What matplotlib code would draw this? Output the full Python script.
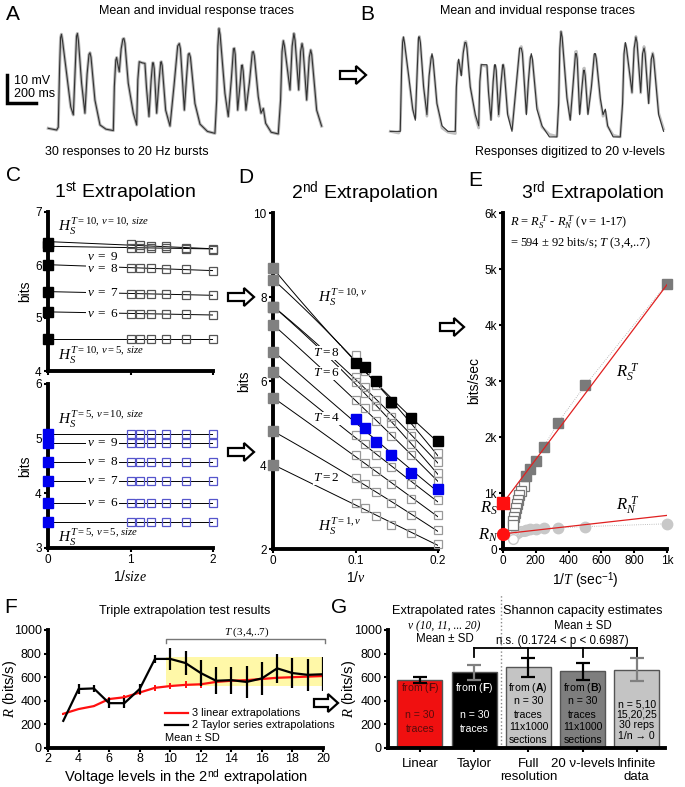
import numpy as np
import matplotlib
matplotlib.use('Agg')
import matplotlib.pyplot as plt
from matplotlib.patches import Polygon, Rectangle

plt.rcParams['font.family'] = ['Liberation Sans', 'DejaVu Sans']
plt.rcParams['mathtext.fontset'] = 'custom'
plt.rcParams['mathtext.rm'] = 'Liberation Serif'
plt.rcParams['mathtext.it'] = 'Liberation Serif:italic'
plt.rcParams['mathtext.sf'] = 'Liberation Sans'
plt.rcParams['mathtext.bf'] = 'Liberation Sans:bold'

# ---------------- data ----------------
# A/B: response trace (ms, mV)
trace_t = [2, 60, 71, 80, 87, 93, 100, 129, 157, 175,
           188, 197, 203, 210, 232, 255,
           270, 283, 290, 297, 324, 359, 400, 451,
           458, 468, 474, 480, 492, 505, 517, 524, 531, 554, 589, 612,
           620, 630, 650, 669, 680, 697,
           712, 722, 727, 733, 750,
           767, 778, 782, 788, 812, 842,
           870, 895, 906, 914, 941,
           955, 968, 975, 983, 1014, 1049, 1100, 1152,
           1164, 1172, 1180, 1188, 1221, 1244,
           1265, 1280, 1286, 1292, 1309,
           1325, 1336, 1341, 1347, 1366,
           1390, 1410, 1417, 1424, 1451, 1470, 1486, 1502, 1540, 1589,
           1605, 1615, 1624, 1632, 1670,
           1685, 1697, 1705, 1730,
           1743, 1753, 1760, 1785,
           1803, 1813, 1820, 1854, 1888]
trace_v = [0.6, 0.0, 1.0, 22.0, 33.0, 34.2, 32.0, 20.0, 8.3, 5.4,
           22.0, 33.5, 34.5, 32.0, 16.7, 6.0,
           20.0, 27.0, 27.6, 26.0, 10.7, 1.8, 0.3, -0.2,
           15.5, 25.0, 25.9, 24.0, 20.8, 29.0, 32.5, 32.7, 31.0, 16.7, 6.0, 1.8,
           18.0, 24.4, 24.0, 23.8, 15.0, 4.8,
           18.0, 24.0, 24.0, 22.0, 6.0,
           18.0, 24.2, 24.4, 23.0, 7.1, 1.4,
           16.0, 30.0, 30.9, 29.0, 7.1,
           18.0, 27.0, 27.4, 26.0, 9.5, 2.1, -0.5, -1.2,
           10.7, 30.0, 36.3, 34.0, 13.1, 4.8,
           18.0, 29.0, 29.2, 27.0, 7.1,
           16.0, 23.0, 23.2, 21.0, 7.1,
           17.0, 27.8, 28.0, 26.5, 11.9, 6.0, 7.7, 2.4, -0.8, -1.4,
           10.7, 28.0, 31.9, 30.0, 14.3,
           30.0, 34.5, 32.0, 14.3,
           28.0, 30.9, 29.0, 10.7,
           26.0, 28.6, 27.0, 7.1, 1.4]
n_levels = 20

# C: 1st extrapolation (x = 1/size), nu = 10..5
C_inv_size = [1.0, 1.11, 1.25, 1.43, 1.67, 2.0]
C_top_extrap = [6.42, 6.35, 6.00, 5.50, 5.12, 4.60]
C_top_vals = [[6.40, 6.38, 6.36, 6.35, 6.33, 6.28],
              [6.33, 6.33, 6.32, 6.32, 6.31, 6.30],
              [5.95, 5.95, 5.94, 5.93, 5.92, 5.88],
              [5.46, 5.46, 5.45, 5.45, 5.44, 5.43],
              [5.08, 5.08, 5.08, 5.07, 5.07, 5.06],
              [4.60, 4.60, 4.60, 4.60, 4.60, 4.60]]
C_bot_extrap = [5.08, 4.92, 4.57, 4.23, 3.82, 3.47]
C_bot_vals = [[5.08] * 6, [4.92] * 6, [4.57] * 6, [4.23] * 6, [3.82] * 6, [3.47] * 6]

# D: 2nd extrapolation (x = 1/nu), T = 10..1
D_inv_nu = [0.1, 0.111, 0.125, 0.143, 0.167, 0.2]
D_T = [10, 9, 8, 7, 6, 5, 4, 3, 2, 1]
D_extrap = [8.68, 8.40, 7.77, 7.77, 7.34, 6.70, 6.22, 5.60, 4.80, 4.00]
D_vals = [[6.42, 6.34, 6.00, 5.49, 5.13, 4.57],
          [6.62, 6.25, 5.90, 5.45, 4.95, 4.28],
          [6.10, 5.85, 5.55, 5.15, 4.70, 4.08],
          [5.98, 5.72, 5.40, 5.00, 4.50, 3.80],
          [5.55, 5.35, 5.05, 4.70, 4.25, 3.62],
          [5.09, 4.89, 4.54, 4.23, 3.81, 3.43],
          [4.71, 4.50, 4.25, 3.95, 3.55, 3.17],
          [4.24, 4.05, 3.85, 3.55, 3.20, 2.80],
          [3.69, 3.55, 3.35, 3.10, 2.80, 2.45],
          [3.10, 2.98, 2.78, 2.57, 2.38, 2.12]]

# E: 3rd extrapolation (x = 1/T in 1/s)
E_x_filled = [1000, 500, 333, 250, 200, 167, 143]
E_RS_filled = [4740, 2920, 2250, 1830, 1570, 1420, 1300]
E_RN_filled = [450, 400, 375, 370, 360, 350, 340]
E_x_open = [125, 111, 100, 91, 83, 77, 71, 67, 63, 59]
E_RS_open = [1130, 1030, 960, 880, 800, 730, 650, 580, 500, 430]
E_RN_open = [330, 320, 310, 300, 290, 275, 260, 240, 210, 170]
E_fit_x = [0, 1000]
E_RS_fit = [820, 4720]
E_RN_fit = [270, 600]

# F: triple extrapolation test
F_levels = list(range(3, 21))
F_linear = [290, 330, 355, 415, 430, 470, 510, 525, 535, 540, 560, 570, 575, 585, 595, 600, 605, 610]
F_linear_sd = [10, 10, 10, 15, 15, 20, 25, 25, 30, 30, 30, 35, 35, 35, 40, 40, 40, 40]
F_taylor = [230, 500, 505, 380, 380, 500, 755, 755, 720, 635, 570, 575, 560, 590, 675, 635, 620, 625]
F_taylor_sd = [0, 45, 30, 40, 40, 45, 35, 95, 105, 110, 115, 115, 135, 140, 120, 125, 135, 145]
F_band = [9.75, 20.1, 525, 775]

# G: bar chart
G_labels = ['Linear', 'Taylor', 'Full\nresolution', '20 \u03bd-levels', 'Infinite\ndata']
G_values = [578, 640, 683, 650, 665]
G_sd = [25, 60, 80, 70, 95]
G_colors = ['#f01010', '#000000', '#c4c4c4', '#7e7e7e', '#c4c4c4']
G_err_colors = ['#000000', '#808080', '#000000', '#000000', '#808080']

# ---------------- figure ----------------
W, H = 685, 787
fig = plt.figure(figsize=(6.85, 7.87), dpi=100)


def add_ax(l, t, r, b):
    return fig.add_axes([l / W, 1 - b / H, (r - l) / W, (b - t) / H])


def style(ax, lab=8.5):
    for s in ['top', 'right']:
        ax.spines[s].set_visible(False)
    for s in ['left', 'bottom']:
        ax.spines[s].set_linewidth(2.8)
    ax.tick_params(width=1.5, length=3, labelsize=lab, pad=1.5)
    ax.patch.set_alpha(0)


# ---- A and B traces ----
tt = np.array(trace_t)
vv = np.array(trace_v)
vmin, vmax = vv.min(), vv.max()
vq = np.round((vv - vmin) / (vmax - vmin) * (n_levels - 1)) / (n_levels - 1) * (vmax - vmin) + vmin

axA = add_ax(0, 20, 330, 140)
axA.set_xlim(-331, 1946)
axA.set_ylim(-3.57, 39.3)
axA.axis('off')
axA.plot(tt, vv, color='#b8b8b8', lw=2.2, solid_joinstyle='round')
axA.plot(tt, vv, color='#333333', lw=0.8, solid_joinstyle='round')
axA.plot([-283, -283, -83], [19.6, 9.6, 9.6], color='black', lw=2.5, solid_joinstyle='miter')
axA.text(-233, 17.5, '10 mV', fontsize=9, va='center')
axA.text(-233, 12.8, '200 ms', fontsize=9, va='center')

axB = add_ax(342, 23, 672, 143)
axB.set_xlim(-331, 1946)
axB.set_ylim(-3.57, 39.3)
axB.axis('off')
axB.plot(tt, vv, color='#c0c0c0', lw=2.0, solid_joinstyle='round')
axB.plot(tt, vq, color='#333333', lw=0.8, solid_joinstyle='round')

# ---- C ----
axC1 = add_ax(48, 212, 213, 371)
axC2 = add_ax(48, 384, 213, 548)
for ax, ext, vals, mcol, ocol, ylim in [
        (axC1, C_top_extrap, C_top_vals, 'black', '#555555', (4, 7)),
        (axC2, C_bot_extrap, C_bot_vals, '#0000ee', '#5555cc', (3, 6))]:
    style(ax)
    ax.set_xlim(0, 2)
    ax.set_ylim(*ylim)
    ax.set_yticks(range(ylim[0], ylim[1] + 1))
    ax.set_xticks([0, 1, 2])
    ax.set_ylabel('bits', fontsize=10, labelpad=2)
    for e, v in zip(ext, vals):
        xs = np.array([0] + C_inv_size)
        ys = np.array([e] + v)
        p = np.polyfit(xs, ys, 1)
        xx = np.linspace(0, 2, 20)
        ax.plot(xx, np.polyval(p, xx), color='black', lw=0.7, zorder=1)
        ax.plot(C_inv_size, v, ls='none', marker='s', ms=6, mfc='none', mec=ocol, mew=0.9, zorder=3,
                clip_on=False)
    ax.plot([0] * len(ext), ext, ls='none', marker='s', ms=6.5, color=mcol, zorder=4, clip_on=False)
axC1.set_xticklabels([])
axC2.set_xlabel('1/$\\mathit{size}$', fontsize=10, labelpad=2)

tb = dict(facecolor='white', edgecolor='none', pad=0.5)
axC1.text(0.12, 6.72, '$H_S^{\\mathit{T=10,\\,\\nu=10,\\,size}}$', fontsize=11, va='center', zorder=5)
axC1.text(0.12, 4.3, '$H_S^{\\mathit{T=10,\\,\\nu=5,\\,size}}$', fontsize=11, va='center', zorder=5)
for y, lab in [(6.15, 9), (5.93, 8), (5.47, 7), (5.08, 6)]:
    axC1.text(0.66, y, '$\\mathit{\\nu\\ =\\ %d}$' % lab, fontsize=9.5, ha='center', va='center',
              bbox=tb, zorder=5)
axC2.text(0.12, 5.35, '$H_S^{\\mathit{T=5,\\,\\nu=10,\\,size}}$', fontsize=11, va='center', zorder=5)
axC2.text(0.12, 3.2, '$H_S^{\\mathit{T=5,\\,\\nu=5,\\,size}}$', fontsize=11, va='center', zorder=5)
for y, lab in [(4.92, 9), (4.57, 8), (4.23, 7), (3.82, 6)]:
    axC2.text(0.66, y, '$\\mathit{\\nu\\ =\\ %d}$' % lab, fontsize=9.5, ha='center', va='center',
              bbox=tb, zorder=5)

# ---- D ----
axD = add_ax(273, 213, 438, 549)
style(axD)
axD.set_xlim(0, 0.2)
axD.set_ylim(2, 10)
axD.set_yticks([2, 4, 6, 8, 10])
axD.set_xticks([0, 0.1, 0.2])
axD.set_xticklabels(['0', '0.1', '0.2'])
axD.set_ylabel('bits', fontsize=10, labelpad=2)
axD.set_xlabel('1/$\\nu$', fontsize=10, labelpad=2)
for T, e, v in zip(D_T, D_extrap, D_vals):
    xs = np.array([0] + D_inv_nu)
    ys = np.array([e] + v)
    p = np.polyfit(xs, ys, 2)
    xx = np.linspace(0, 0.2, 60)
    axD.plot(xx, np.polyval(p, xx), color='black', lw=0.7, zorder=1)
    if T == 10:
        axD.plot(D_inv_nu, v, ls='none', marker='s', ms=6.5, color='black', zorder=4, clip_on=False)
    elif T == 5:
        axD.plot(D_inv_nu, v, ls='none', marker='s', ms=6.5, color='#0000ee', zorder=4, clip_on=False)
    else:
        axD.plot(D_inv_nu, v, ls='none', marker='s', ms=6, mfc='none', mec='#999999', mew=0.9,
                 zorder=3, clip_on=False)
axD.plot([0] * len(D_extrap), D_extrap, ls='none', marker='s', ms=6.5, color='#808080', zorder=4,
         clip_on=False)
axD.text(0.055, 8.0, '$H_S^{\\mathit{T=10,\\nu}}$', fontsize=11, va='center', bbox=tb, zorder=5)
for y, lab in [(6.67, 8), (6.18, 6), (5.11, 4), (3.69, 2)]:
    axD.text(0.065, y, '$\\mathit{T=%d}$' % lab, fontsize=9.5, ha='center', va='center', bbox=tb,
             zorder=5)
axD.text(0.055, 2.55, '$H_S^{\\mathit{T=1,\\nu}}$', fontsize=11, va='center', bbox=tb, zorder=5)

# ---- E ----
axE = add_ax(503, 213, 667, 549)
style(axE)
axE.set_xlim(0, 1000)
axE.set_ylim(0, 6000)
axE.set_yticks(range(0, 6001, 1000))
axE.set_yticklabels(['0', '1k', '2k', '3k', '4k', '5k', '6k'])
axE.set_xticks(range(0, 1001, 200))
axE.set_xticklabels(['0', '200', '400', '600', '800', '1k'])
axE.set_ylabel('bits/sec', fontsize=10, labelpad=2)
axE.set_xlabel('1/$T$ (sec$^{\\mathsf{-1}}$)', fontsize=10, labelpad=2)
xs_all = E_x_filled + E_x_open
rs_all = E_RS_filled + E_RS_open
rn_all = E_RN_filled + E_RN_open
order = np.argsort(xs_all)
axE.plot(np.array(xs_all)[order], np.array(rs_all)[order], color='#aaaaaa', lw=0.6, ls=':', zorder=1)
axE.plot(np.array(xs_all)[order], np.array(rn_all)[order], color='#aaaaaa', lw=0.6, ls=':', zorder=1)
axE.plot(E_x_open, E_RN_open, ls='none', marker='o', ms=7, mfc='white', mec='#c8c8c8', mew=1, zorder=2)
axE.plot(E_x_filled, E_RN_filled, ls='none', marker='o', ms=7.5, color='#c8c8c8', zorder=2, clip_on=False)
axE.plot(E_x_open, E_RS_open, ls='none', marker='s', ms=6.5, mfc='white', mec='#777777', mew=0.9, zorder=3)
axE.plot(E_x_filled, E_RS_filled, ls='none', marker='s', ms=7, color='#7a7a7a', zorder=3, clip_on=False)
axE.plot(E_fit_x, E_RS_fit, color='#e02020', lw=0.9, zorder=4)
axE.plot(E_fit_x, E_RN_fit, color='#e02020', lw=0.9, zorder=4)
axE.plot([0], [E_RS_fit[0]], ls='none', marker='s', ms=8, color='#ff1010', zorder=6, clip_on=False)
axE.plot([0], [E_RN_fit[0]], ls='none', marker='o', ms=8.5, color='#ff1010', zorder=6, clip_on=False)
axE.text(43, 5830, '$R$ = $R_S^{\\ T}$ - $R_N^{\\ T}$ (\u03bd = 1-17)', fontsize=9,
         family='Liberation Serif', va='center')
axE.text(43, 5460, '= 594 \u00b1 92 bits/s; $T$ (3,4,..7)', fontsize=9, family='Liberation Serif',
         va='center')
axE.text(690, 3150, '$R_S^{\\ T}$', fontsize=12, va='center')
axE.text(690, 760, '$R_N^{\\ T}$', fontsize=12, va='center')
axE.text(-30, 720, '$R_S$', fontsize=12, va='center', ha='right')
axE.text(-30, 250, '$R_N$', fontsize=12, va='center', ha='right')

# ---- F ----
axF = add_ax(48, 630, 323, 748)
style(axF, lab=9)
axF.tick_params(axis='x', pad=0.5)
axF.set_xlim(2, 20)
axF.set_ylim(0, 1000)
axF.set_xticks(range(2, 21, 2))
axF.set_yticks(range(0, 1001, 200))
axF.set_ylabel('$R$ (bits/s)', fontsize=10.5)
axF.yaxis.set_label_coords(-0.105, 0.5)
axF.set_xlabel('Voltage levels in the 2$^{\\mathsf{nd}}$ extrapolation', fontsize=10.5, labelpad=2)
axF.add_patch(Rectangle((F_band[0], F_band[2]), F_band[1] - F_band[0], F_band[3] - F_band[2],
                        facecolor='#fff8a8', edgecolor='none', zorder=0))
axF.errorbar(F_levels, F_linear, yerr=F_linear_sd, color='#ff1010', lw=1.6, elinewidth=1.4,
             capsize=0, zorder=3)
axF.errorbar(F_levels, F_taylor, yerr=F_taylor_sd, color='black', lw=1.6, elinewidth=1.6,
             capsize=0, zorder=4)
axF.plot([9.75, 9.75, 20.1, 20.1], [888, 924, 924, 888], color='#777777', lw=1, clip_on=False)
axF.text(15.0, 985, '$T$ (3,4,..7)', fontsize=8, family='Liberation Serif', ha='center', va='center')
# legend
for yy, col, lab in [(0.297, '#ff1010', '3 linear extrapolations'),
                     (0.195, 'black', '2 Taylor series extrapolations')]:
    axF.plot([0.425, 0.51], [yy, yy], color=col, lw=1.6, transform=axF.transAxes, clip_on=False)
    axF.text(0.522, yy, lab, transform=axF.transAxes, fontsize=7.9, va='center')
axF.text(0.425, 0.085, 'Mean \u00b1 SD', transform=axF.transAxes, fontsize=7.9, va='center')

# ---- G ----
axG = add_ax(388, 630, 665, 748)
style(axG, lab=9)
xpos = np.arange(len(G_values))
axG.set_xlim(-0.59, 4.52)
axG.set_ylim(0, 1000)
axG.set_yticks(range(0, 1001, 200))
axG.set_xticks(xpos)
axG.set_xticklabels(G_labels, fontsize=9.5, va='top', linespacing=1.1)
axG.tick_params(axis='x', pad=4)
axG.set_ylabel('$R$ (bits/s)', fontsize=10.5)
axG.yaxis.set_label_coords(-0.108, 0.5)
axG.bar(xpos, G_values, width=0.83, color=G_colors, edgecolor='#555555', lw=1, zorder=2)
for x, v, s, c in zip(xpos, G_values, G_sd, G_err_colors):
    axG.errorbar([x], [v], yerr=[s], color=c, capsize=5, elinewidth=1.6, capthick=1.6, zorder=3)
axG.axvline(1.5, ymin=0, ymax=1.3, color='#888888', lw=1, ls=':', clip_on=False)
# bracket
axG.plot([1, 4], [847, 847], color='black', lw=1.3, clip_on=False)
for x in [1, 2, 3, 4]:
    axG.plot([x, x], [847, 775], color='black', lw=1.3, clip_on=False)
axG.text(2.63, 905, 'n.s. (0.1724 < p < 0.6987)', fontsize=8.3, ha='center', va='center')
# bar texts
bt = dict(fontsize=7.6, ha='center', va='center')
axG.text(0, 508, 'from ($\\mathbf{F}$)', color='#5a0c0c', **bt)
axG.text(0, 280, 'n = 30', color='#5a0c0c', **bt)
axG.text(0, 160, 'traces', color='#5a0c0c', **bt)
axG.text(1, 508, 'from ($\\mathbf{F}$)', color='white', **bt)
axG.text(1, 280, 'n = 30', color='white', **bt)
axG.text(1, 160, 'traces', color='white', **bt)
for x, letter in [(2, 'A'), (3, 'B')]:
    axG.text(x, 509, 'from ($\\mathbf{%s}$)' % letter, color='black', **bt)
    axG.text(x, 395, 'n = 30', color='black', **bt)
    axG.text(x, 282, 'traces', color='black', **bt)
    axG.text(x, 178, '11x1000', color='black', **bt)
    axG.text(x, 70, 'sections', color='black', **bt)
axG.text(4, 370, 'n = 5,10', color='black', **bt)
axG.text(4, 282, '15,20,25', color='black', **bt)
axG.text(4, 194, '30 reps', color='black', **bt)
axG.text(4, 100, '1/n \u2192 0', color='black', **bt)
axG.text(0.45, 1035, '\u03bd (10, 11, ... 20)', fontsize=8.3, family='Liberation Serif', ha='center',
         va='center', style='italic')
axG.text(0.45, 925, 'Mean \u00b1 SD', fontsize=8.3, ha='center', va='center')
axG.text(3.0, 1035, 'Mean \u00b1 SD', fontsize=8.3, ha='center', va='center')

# ---------------- overlay: titles, letters, arrows ----------------
ov = fig.add_axes([0, 0, 1, 1], zorder=20)
ov.set_xlim(0, W)
ov.set_ylim(H, 0)
ov.axis('off')
ov.patch.set_alpha(0)

for x, y, s in [(6, 5, 'A'), (360, 5, 'B'), (6, 166, 'C'), (238, 168, 'D'), (468, 171, 'E'),
                (4, 598, 'F'), (331, 598, 'G')]:
    ov.text(x, y, s, fontsize=15, va='top', ha='left')

ov.text(197, 11, 'Mean and invidual response traces', fontsize=9, ha='center', va='center')
ov.text(538, 11, 'Mean and invidual response traces', fontsize=9, ha='center', va='center')
ov.text(45, 152, '30 responses to 20 Hz bursts', fontsize=9, ha='left', va='center')
ov.text(665, 152, 'Responses digitized to 20 \u03bd-levels', fontsize=9, ha='right', va='center')
ov.text(125, 193, '1$^{\\mathsf{st}}$ Extrapolation', fontsize=14, ha='center', va='center')
ov.text(364, 193, '2$^{\\mathsf{nd}}$ Extrapolation', fontsize=14, ha='center', va='center')
ov.text(593, 193, '3$^{\\mathsf{rd}}$ Extrapolation', fontsize=14, ha='center', va='center')
ov.text(185, 611, 'Triple extrapolation test results', fontsize=9, ha='center', va='center')
ov.text(444, 611, 'Extrapolated rates', fontsize=9.2, ha='center', va='center')
ov.text(583, 611, 'Shannon capacity estimates', fontsize=9.2, ha='center', va='center')


def block_arrow(x0, x1, y, sh=4, hh=9, hl=10):
    pts = [(x0, y - sh), (x1 - hl, y - sh), (x1 - hl, y - hh), (x1, y), (x1 - hl, y + hh),
           (x1 - hl, y + sh), (x0, y + sh)]
    ov.add_patch(Polygon(pts, closed=True, facecolor='white', edgecolor='black', lw=1.6,
                         joinstyle='miter'))


block_arrow(340, 366, 75)
block_arrow(228, 254, 297)
block_arrow(228, 254, 452)
block_arrow(440, 464, 327)
block_arrow(314, 338, 703)

fig.savefig('out.png', dpi=100)
